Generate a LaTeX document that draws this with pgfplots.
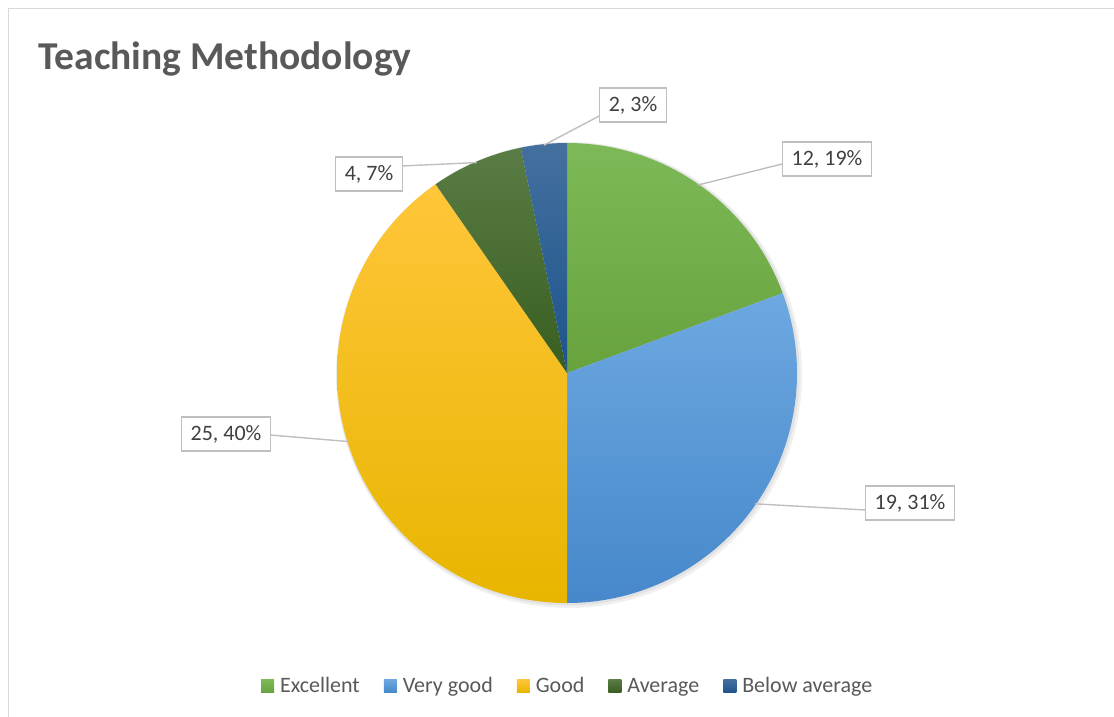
\documentclass[border=0pt]{standalone}
\usepackage{pgfplots}
\usepackage{pgfplotstable}
\pgfplotsset{compat=1.18}
\usepackage{fontspec}
\setmainfont{Carlito}

\definecolor{txt}{HTML}{595959}
\definecolor{lbl}{HTML}{404040}
\definecolor{frame}{HTML}{D9D9D9}
\definecolor{lead}{HTML}{BFBFBF}
% slice gradients, light at the top, dark at the bottom
\definecolor{top0}{HTML}{7DBA57}\definecolor{bot0}{HTML}{67A23D}
\definecolor{top1}{HTML}{6DA8E0}\definecolor{bot1}{HTML}{4688CB}
\definecolor{top2}{HTML}{FFC63A}\definecolor{bot2}{HTML}{E8B500}
\definecolor{top3}{HTML}{5A7C45}\definecolor{bot3}{HTML}{385E20}
\definecolor{top4}{HTML}{44709E}\definecolor{bot4}{HTML}{1D548C}

\pgfplotstableread{
name value
Excellent 12
{Very good} 19
Good 25
Average 4
{Below average} 2
}\piedata

\begin{document}
\begin{tikzpicture}
% total and cumulative angles (clockwise from 12 o'clock)
\def\pietotal{0}
\pgfplotsforeachungrouped \i in {0,...,4}{%
  \pgfplotstablegetelem{\i}{value}\of\piedata
  \pgfmathsetmacro\pietotal{\pietotal+\pgfplotsretval}}
\def\piecum{0}
\pgfplotsforeachungrouped \i in {0,...,4}{%
  \pgfplotstablegetelem{\i}{value}\of\piedata
  \pgfmathsetmacro\pieS{90-360*(\piecum/\pietotal)}%
  \pgfmathsetmacro\piecum{\piecum+\pgfplotsretval}%
  \pgfmathsetmacro\pieE{90-360*(\piecum/\pietotal)}%
  \pgfmathsetmacro\pieMid{(\pieS+\pieE)/2}%
  \expandafter\xdef\csname pieA\i\endcsname{\pieS}%
  \expandafter\xdef\csname pieB\i\endcsname{\pieE}%
  \expandafter\xdef\csname pieM\i\endcsname{\pieMid}}

\begin{axis}[name=ax,
    scale only axis,
    width=1114bp, height=717bp,
    xmin=0, xmax=1114, ymin=0, ymax=717,
    y dir=reverse,
    axis lines=none,
    clip=false,
    legend columns=5,
    legend image code/.code={\path[#1] (0bp,-6.5bp) rectangle (13bp,6.5bp);},
    legend style={draw=none, fill=none, text=txt,
        font=\fontsize{22bp}{26bp}\selectfont,
        at={(0.5095,0.0432)}, anchor=center,
        /tikz/every odd column/.append style={column sep=4bp},
        /tikz/every even column/.append style={column sep=22bp}},
]
% chart frame (cut off at right and bottom)
\draw[frame, line width=1.5bp] (axis cs:8.5,717) -- (axis cs:8.5,8.5) -- (axis cs:1114,8.5);

\node[anchor=base west, text=txt, font=\fontsize{39.5bp}{44bp}\selectfont\bfseries]
    at (axis cs:35,70) {Teaching Methodology};

% soft shadow
\fill[black, opacity=0.06] (axis cs:569,375) circle[radius=233bp];
\fill[black, opacity=0.06] (axis cs:568,374) circle[radius=231.5bp];

\pgfplotsinvokeforeach{0,...,4}{
  \path[top color=top#1, bottom color=bot#1]
    (axis cs:567,373) -- ++(\csname pieA#1\endcsname:230bp)
    arc[start angle=\csname pieA#1\endcsname, end angle=\csname pieB#1\endcsname, radius=230bp]
    -- cycle;
}

% leader lines
\draw[lead, line width=1.4bp] (axis cs:567,373) ++(\csname pieM0\endcsname:229bp) -- (axis cs:782,164);
\draw[lead, line width=1.4bp] (axis cs:567,373) ++(\csname pieM1\endcsname:229bp) -- (axis cs:866,510);
\draw[lead, line width=1.4bp] (axis cs:567,373) ++(\csname pieM2\endcsname:229bp) -- (axis cs:270,435);
\draw[lead, line width=1.4bp] (axis cs:567,373) ++(\csname pieM3\endcsname:229bp) -- (axis cs:402,166);
\draw[lead, line width=1.4bp] (axis cs:567,373) ++(\csname pieM4\endcsname:229bp) -- (axis cs:603,114);

% data labels
\tikzset{dlab/.style={draw=lead, line width=1.2bp, fill=white, text=lbl,
    font=\fontsize{22bp}{26bp}\selectfont, minimum height=34bp, inner xsep=9bp}}
\node[dlab] at (axis cs:827,159) {12, 19\%};
\node[dlab] at (axis cs:910,503) {19, 31\%};
\node[dlab] at (axis cs:226,434) {25, 40\%};
\node[dlab] at (axis cs:369,174) {4, 7\%};
\node[dlab] at (axis cs:633,105) {2, 3\%};

\pgfplotsinvokeforeach{0,...,4}{
  \addlegendimage{draw=none, top color=top#1, bottom color=bot#1}
}
\legend{Excellent, Very good, Good, Average, Below average}
\end{axis}
\pgfresetboundingbox
\path (ax.south west) rectangle (ax.north east);
\end{tikzpicture}
\end{document}
